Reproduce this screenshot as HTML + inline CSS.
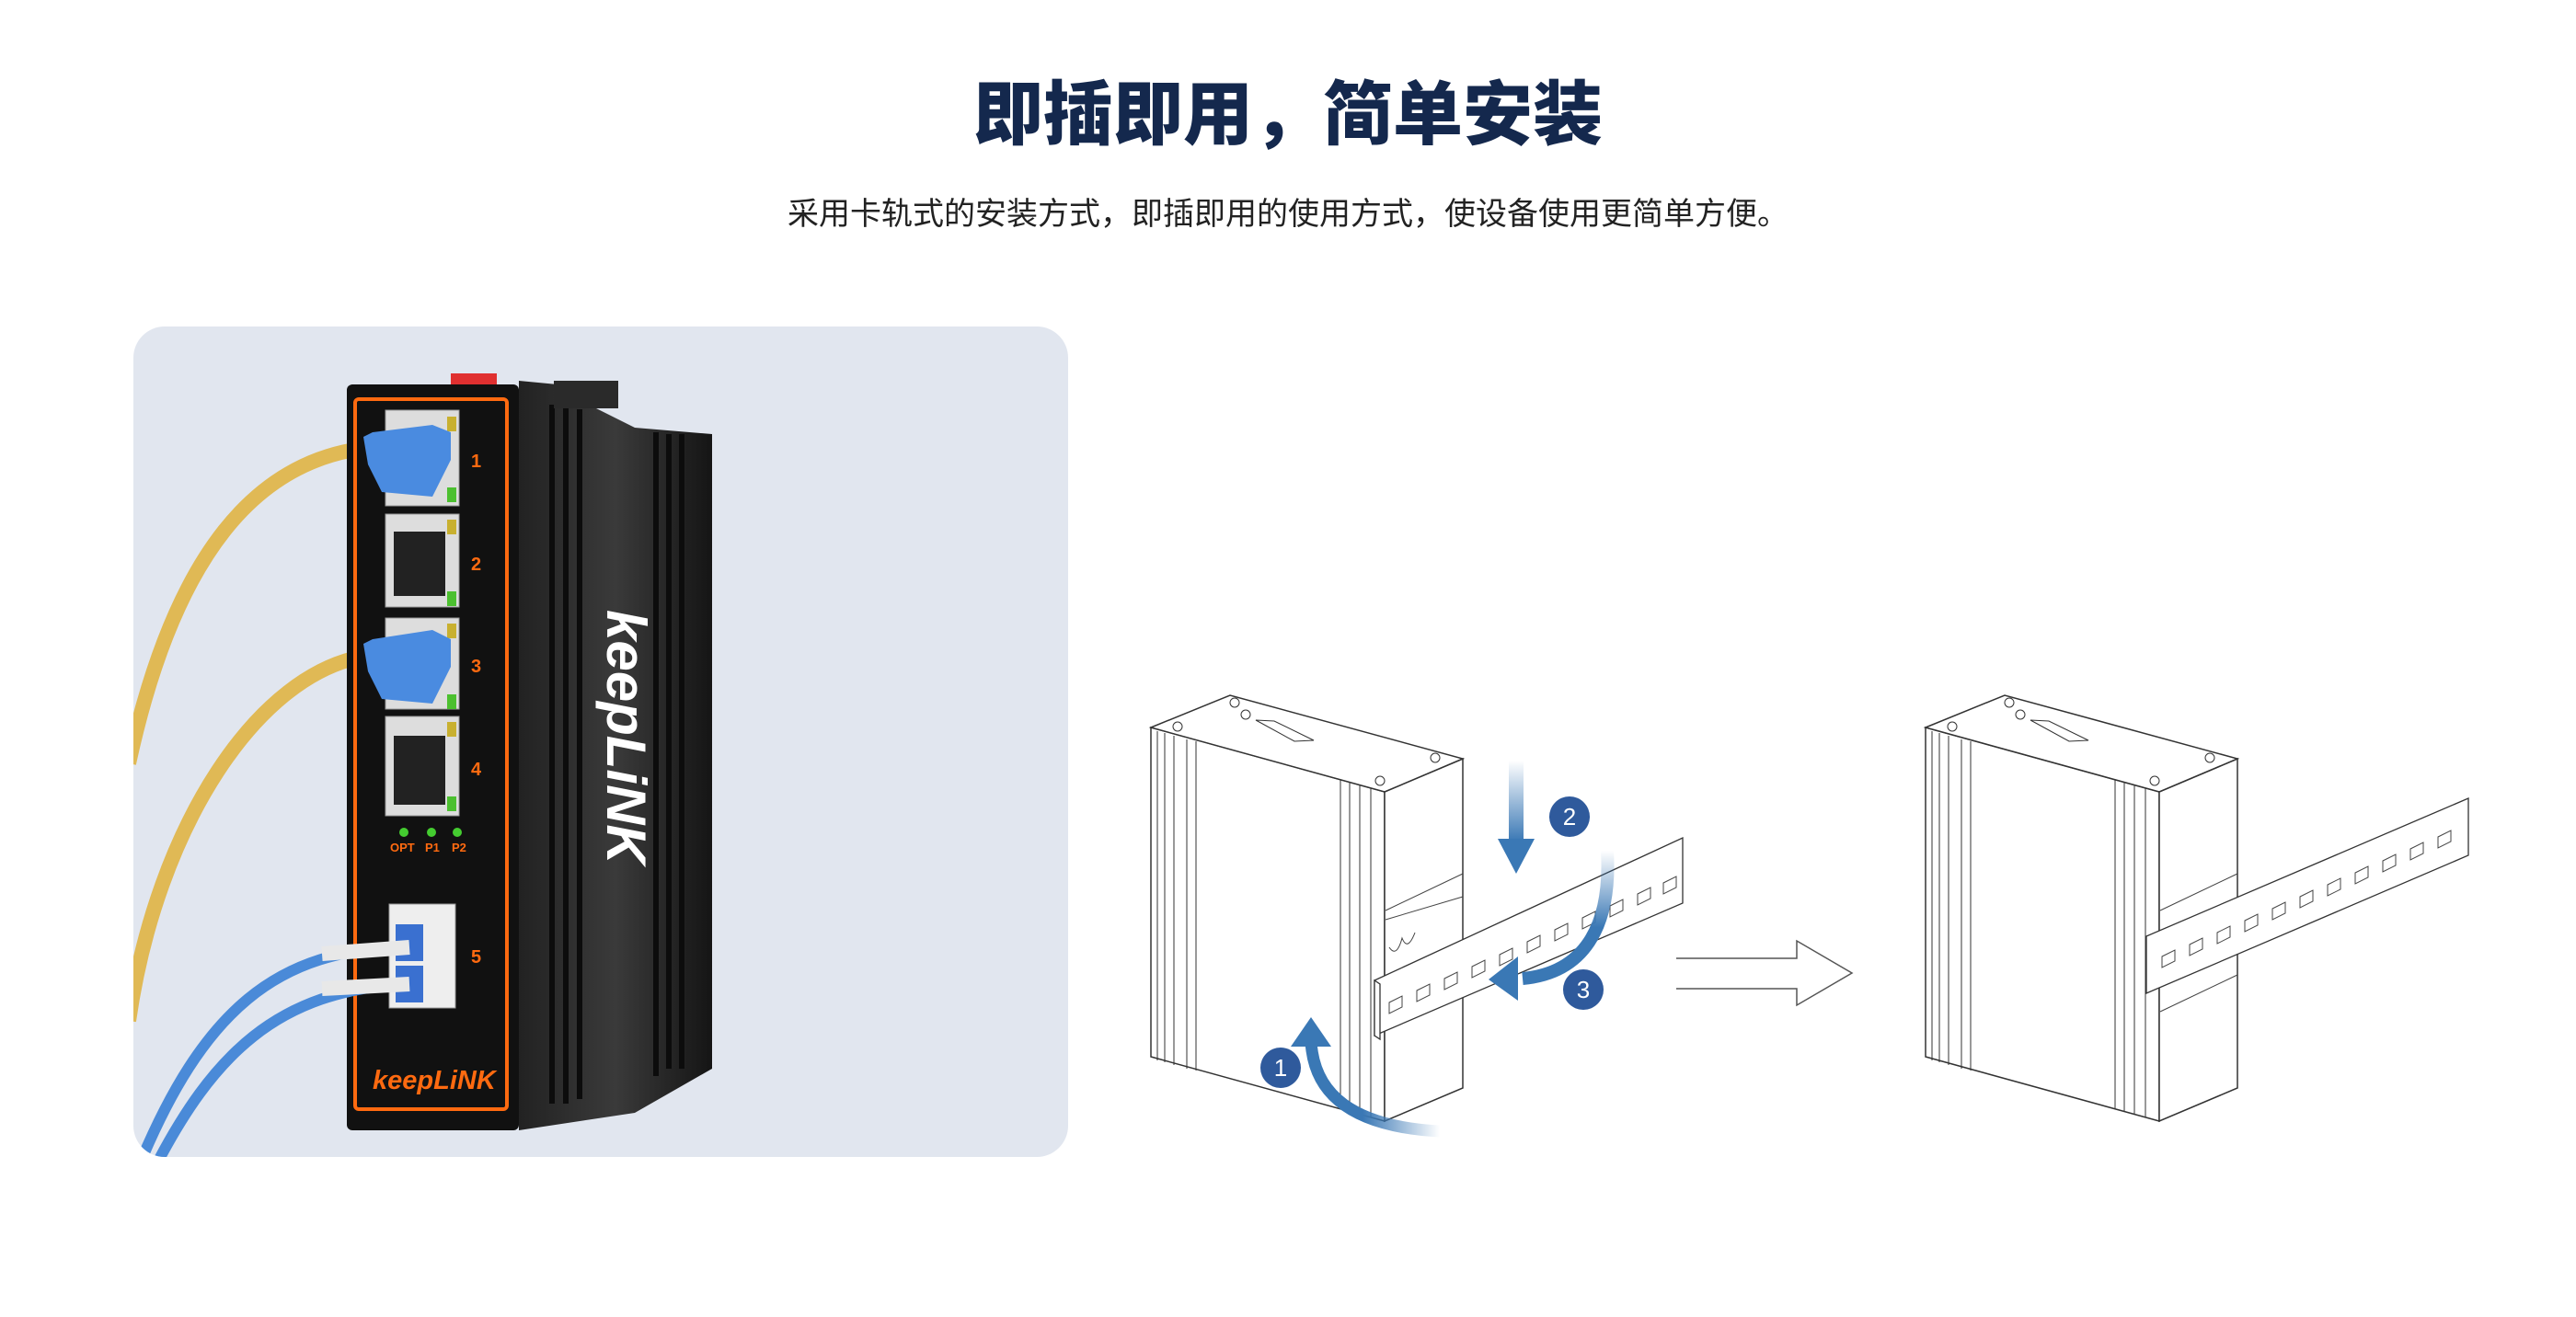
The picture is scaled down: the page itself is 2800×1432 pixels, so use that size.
<!DOCTYPE html>
<html><head><meta charset="utf-8"><style>
html,body{margin:0;padding:0;background:#fff}
body{width:2800px;height:1432px;overflow:hidden;position:relative}
.t{position:absolute;left:0;width:2800px;text-align:center;font-family:"Liberation Sans","Noto Sans CJK SC",sans-serif}
</style></head><body>
<div class="t" style="top:80px;font-size:76px;font-weight:900;color:#14284d;line-height:92px">即插即用，简单安装</div>
<div class="t" style="top:211px;font-size:34px;color:#222;line-height:44px">采用卡轨式的安装方式，即插即用的使用方式，使设备使用更简单方便。</div>
<svg width="2800" height="1432" viewBox="0 0 2800 1432" style="position:absolute;left:0;top:0">
<defs>
<clipPath id="pc"><rect x="145" y="355" width="1016" height="903" rx="34"/></clipPath>
<linearGradient id="g2" x1="0" y1="0" x2="0" y2="1"><stop offset="0" stop-color="#3a78b5" stop-opacity="0"/><stop offset="1" stop-color="#3a78b5"/></linearGradient>
<linearGradient id="g3" x1="0" y1="0" x2="0" y2="1"><stop offset="0" stop-color="#3a78b5" stop-opacity="0"/><stop offset="0.6" stop-color="#3a78b5"/></linearGradient>
<linearGradient id="g1" x1="1" y1="0" x2="0" y2="0"><stop offset="0" stop-color="#3a78b5" stop-opacity="0"/><stop offset="0.6" stop-color="#3a78b5"/></linearGradient>
<linearGradient id="side" x1="0" y1="0" x2="1" y2="0"><stop offset="0" stop-color="#222"/><stop offset="0.5" stop-color="#3a3a3a"/><stop offset="1" stop-color="#151515"/></linearGradient>
<g id="dev" fill="#fff" stroke="#333" stroke-width="1.5">
<polygon points="1251,791 1505,861 1505,1219 1251,1149"/>
<polygon points="1505,861 1590,825 1590,1183 1505,1219"/>
<polygon points="1251,791 1337,756 1590,825 1505,861"/>
<g stroke-width="1"><line x1="1258" y1="795" x2="1258" y2="1153"/><line x1="1266" y1="797" x2="1266" y2="1155"/><line x1="1276" y1="800" x2="1276" y2="1158"/><line x1="1290" y1="804" x2="1290" y2="1162"/><line x1="1300" y1="806" x2="1300" y2="1164"/>
<line x1="1457" y1="848" x2="1457" y2="1206"/><line x1="1467" y1="851" x2="1467" y2="1209"/><line x1="1478" y1="854" x2="1478" y2="1212"/><line x1="1490" y1="857" x2="1490" y2="1215"/>
<polygon points="1365,783 1385,784 1428,805 1407,806" fill="none"/>
<circle cx="1342" cy="764" r="5" fill="none"/><circle cx="1354" cy="777" r="5" fill="none"/><circle cx="1280" cy="790" r="5" fill="none"/><circle cx="1560" cy="824" r="5" fill="none"/><circle cx="1500" cy="849" r="5" fill="none"/></g>
</g>
</defs>
<rect x="145" y="355" width="1016" height="903" rx="34" fill="#e1e6ef"/>
<g clip-path="url(#pc)">
<path d="M400,487 C280,500 190,600 140,830" stroke="#e0b955" stroke-width="16" fill="none"/>
<path d="M400,713 C280,730 170,900 140,1110" stroke="#e0b955" stroke-width="16" fill="none"/>
</g>
<polygon points="564,414 606,418 640,440 690,465 774,472 774,1162 690,1210 564,1229" fill="url(#side)"/>
<g fill="#0c0c0c"><rect x="597" y="440" width="6" height="760"/><rect x="612" y="440" width="6" height="760"/><rect x="627" y="445" width="6" height="750"/><rect x="710" y="470" width="6" height="700"/><rect x="724" y="472" width="6" height="690"/><rect x="738" y="472" width="6" height="690"/></g>
<rect x="602" y="414" width="70" height="30" fill="#2a2a2a"/>
<rect x="490" y="406" width="50" height="14" fill="#e03030"/>
<text transform="translate(660,663) rotate(90)" font-family="Liberation Sans" font-style="italic" font-weight="bold" font-size="60" fill="#fff">keepLiNK</text>
<rect x="377" y="418" width="187" height="811" rx="6" fill="#111"/>
<rect x="386" y="434" width="165" height="772" rx="4" fill="none" stroke="#ff6a10" stroke-width="4"/>
<g fill="#ddd" stroke="#999"><rect x="419" y="446" width="80" height="104"/><rect x="419" y="559" width="80" height="101"/><rect x="419" y="672" width="80" height="99"/><rect x="419" y="779" width="80" height="108"/></g>
<g fill="#222"><rect x="428" y="578" width="56" height="70"/><rect x="428" y="800" width="56" height="75"/></g>
<g fill="#c8b030"><rect x="486" y="453" width="10" height="16"/><rect x="486" y="565" width="10" height="16"/><rect x="486" y="678" width="10" height="16"/><rect x="486" y="785" width="10" height="16"/></g>
<g fill="#4cc030"><rect x="486" y="530" width="10" height="16"/><rect x="486" y="643" width="10" height="16"/><rect x="486" y="755" width="10" height="16"/><rect x="486" y="866" width="10" height="16"/></g>
<path d="M395,475 L405,470 L470,462 L490,470 L490,500 L470,540 L415,535 L400,505Z" fill="#4a8be0"/>
<path d="M395,700 L405,695 L470,685 L490,695 L490,725 L470,765 L415,760 L400,730Z" fill="#4a8be0"/>
<g fill="#ff6a10" font-family="Liberation Sans" font-weight="bold" font-size="20"><text x="512" y="508">1</text><text x="512" y="620">2</text><text x="512" y="731">3</text><text x="512" y="843">4</text><text x="512" y="1047">5</text>
<text x="424" y="926" font-size="13">OPT</text><text x="462" y="926" font-size="13">P1</text><text x="491" y="926" font-size="13">P2</text>
<text x="405" y="1184" font-size="29" font-style="italic">keepLiNK</text></g>
<g fill="#44cc30"><circle cx="439" cy="905" r="5"/><circle cx="469" cy="905" r="5"/><circle cx="497" cy="905" r="5"/></g>
<rect x="423" y="983" width="72" height="113" fill="#eee" stroke="#999"/>
<rect x="430" y="1005" width="30" height="40" fill="#3a70d0"/><rect x="430" y="1050" width="30" height="40" fill="#3a70d0"/>
<g clip-path="url(#pc)">
<path d="M445,1030 C300,1030 220,1100 150,1270" stroke="#4a8ad8" stroke-width="12" fill="none"/>
<path d="M445,1070 C300,1075 230,1150 168,1270" stroke="#4a8ad8" stroke-width="12" fill="none"/>
</g>
<path d="M445,1030 L350,1037" stroke="#e8e8e8" stroke-width="16"/><path d="M445,1070 L350,1075" stroke="#e8e8e8" stroke-width="16"/>
<use href="#dev"/>
<g fill="#fff" stroke="#333" stroke-width="1.3">
<polygon points="1494,1066 1829,911 1829,982 1494,1126"/>
<polygon points="1494,1066 1500,1070 1500,1130 1494,1126"/>
</g>
<g fill="none" stroke="#444" stroke-width="1"><path d="M1510,1090 l14,-7 v12 l-14,7z M1540,1077 l14,-7 v12 l-14,7z M1570,1064 l14,-7 v12 l-14,7z M1600,1051 l14,-7 v12 l-14,7z M1630,1038 l14,-7 v12 l-14,7z M1660,1024 l14,-7 v12 l-14,7z M1690,1011 l14,-7 v12 l-14,7z M1720,998 l14,-7 v12 l-14,7z M1750,985 l14,-7 v12 l-14,7z M1780,972 l14,-7 v12 l-14,7z M1808,960 l14,-7 v12 l-14,7z"/>
<path d="M1506,990 L1590,950 M1506,1000 L1590,975 M1510,1030 q8,12 14,-10 q6,15 14,-6"/></g>
<use href="#dev" x="842"/>
<g fill="#fff" stroke="#333" stroke-width="1.3"><polygon points="2333,1018 2683,868 2683,930 2333,1080"/></g>
<g fill="none" stroke="#444" stroke-width="1"><path d="M2350,1040 l14,-7 v12 l-14,7z M2380,1027 l14,-7 v12 l-14,7z M2410,1014 l14,-7 v12 l-14,7z M2440,1001 l14,-7 v12 l-14,7z M2470,988 l14,-7 v12 l-14,7z M2500,975 l14,-7 v12 l-14,7z M2530,962 l14,-7 v12 l-14,7z M2560,949 l14,-7 v12 l-14,7z M2590,936 l14,-7 v12 l-14,7z M2620,923 l14,-7 v12 l-14,7z M2650,910 l14,-7 v12 l-14,7z"/>
<path d="M2348,990 L2432,950 M2348,1100 L2432,1060"/></g>
<rect x="1640" y="827" width="16" height="88" fill="url(#g2)"/>
<polygon points="1628,912 1668,912 1648,950" fill="#3a78b5"/>
<path d="M1747,925 C1752,1010 1720,1058 1655,1064" stroke="url(#g3)" stroke-width="14" fill="none"/>
<polygon points="1618,1065 1650,1040 1650,1088" fill="#3a78b5"/>
<path d="M1565,1230 C1470,1225 1428,1190 1425,1132" stroke="url(#g1)" stroke-width="13" fill="none"/>
<polygon points="1425,1106 1403,1138 1447,1138" fill="#3a78b5"/>
<g fill="#2f5a9c"><ellipse cx="1706" cy="888" rx="22" ry="22"/><ellipse cx="1721" cy="1076" rx="22" ry="22"/><ellipse cx="1392" cy="1161" rx="22" ry="22"/></g>
<g fill="#fff" font-family="Liberation Sans" font-size="26" text-anchor="middle"><text x="1706" y="897">2</text><text x="1721" y="1085">3</text><text x="1392" y="1170">1</text></g>
<path d="M1822,1042 L1953,1042 L1953,1023 L2013,1058 L1953,1093 L1953,1075 L1822,1075" fill="none" stroke="#555" stroke-width="1.5"/>
</svg>
</body></html>
